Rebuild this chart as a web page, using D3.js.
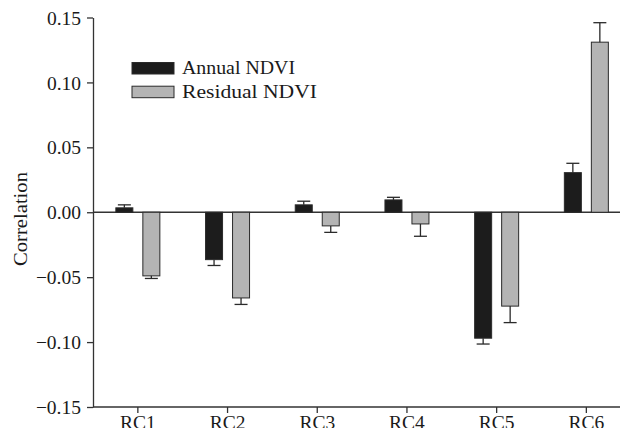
<!DOCTYPE html>
<html lang="en">
<head>
    <meta charset="UTF-8">
    <title>Correlation by region</title>
    <style>
        body { margin: 0; padding: 0; background: #fff; }
        svg { display: block; }
        text { font-family: "Liberation Serif", "DejaVu Serif", serif; fill: #1a1a1a; }
    </style>
</head>
<body>
    <script src="https://d3js.org/d3.v7.min.js"></script>
    <script>
        const categories = ['RC1', 'RC2', 'RC3', 'RC4', 'RC5', 'RC6'];
        const seriesNames = ['Annual NDVI', 'Residual NDVI'];
        const annualValues = [0.0034, -0.0365, 0.0057, 0.0095, -0.097, 0.0305];
        const annualErrors = [0.0023, 0.0045, 0.0028, 0.002, 0.0045, 0.0072];
        const residualValues = [-0.049, -0.066, -0.0105, -0.009, -0.0723, 0.131];
        const residualErrors = [0.002, 0.005, 0.005, 0.0095, 0.0127, 0.015];
        const yTicks = [-0.15, -0.10, -0.05, 0.00, 0.05, 0.10, 0.15];

        const width = 620, height = 428;
        const margin = { left: 93, top: 17.5, bottom: 21 };

        const svg = d3.select('body').append('svg')
            .attr('width', width)
            .attr('height', height);

        const y = d3.scaleLinear()
            .domain([-0.15, 0.15])
            .range([height - margin.bottom, margin.top]);

        const x = d3.scaleBand()
            .domain(categories)
            .range([margin.left, margin.left + 89.7 * 6]);

        const barW = 17, offset = 13.5;
        const fills = ['#1c1c1c', '#b4b4b4'];

        const series = [
            { name: seriesNames[0], values: annualValues, errors: annualErrors, dx: -offset, fill: fills[0], len: 113 },
            { name: seriesNames[1], values: residualValues, errors: residualErrors, dx: offset, fill: fills[1], len: 135 }
        ];

        // zero line
        svg.append('line')
            .attr('x1', margin.left).attr('x2', width)
            .attr('y1', y(0)).attr('y2', y(0))
            .attr('stroke', '#333').attr('stroke-width', 1.3);

        series.forEach(s => {
            const g = svg.append('g');
            categories.forEach((c, i) => {
                const v = s.values[i], e = s.errors[i];
                const cx = x(c) + x.bandwidth() / 2 + s.dx;
                g.append('rect')
                    .attr('x', cx - barW / 2)
                    .attr('y', Math.min(y(v), y(0)))
                    .attr('width', barW)
                    .attr('height', Math.abs(y(v) - y(0)))
                    .attr('fill', s.fill)
                    .attr('stroke', '#2a2a2a')
                    .attr('stroke-width', 1);
                // error bar goes away from zero
                const ev = v >= 0 ? v + e : v - e;
                g.append('line')
                    .attr('x1', cx).attr('x2', cx)
                    .attr('y1', y(v)).attr('y2', y(ev))
                    .attr('stroke', '#2a2a2a').attr('stroke-width', 1.3);
                g.append('line')
                    .attr('x1', cx - 6.5).attr('x2', cx + 6.5)
                    .attr('y1', y(ev)).attr('y2', y(ev))
                    .attr('stroke', '#2a2a2a').attr('stroke-width', 1.3);
            });
        });

        // y axis
        const yAxis = svg.append('g')
            .attr('transform', `translate(${margin.left},0)`)
            .call(d3.axisLeft(y).tickValues(yTicks).tickSize(6).tickSizeOuter(0)
                .tickFormat(d => d3.format('.2f')(d).replace('-', '\u2212')));
        yAxis.selectAll('text')
            .attr('font-size', 19.5)
            .attr('font-family', '"Liberation Serif", serif')
            .attr('x', -12)
            .attr('dy', '0.34em')
            .attr('fill', '#1a1a1a');
        yAxis.selectAll('line, path').attr('stroke', '#333').attr('stroke-width', 1.3);

        // x axis
        const xAxis = svg.append('g')
            .attr('transform', `translate(0,${y(-0.15)})`)
            .call(d3.axisBottom(x).tickSize(6).tickSizeOuter(0));
        xAxis.select('.domain').attr('d', `M${margin.left},0H${width}`);
        xAxis.selectAll('text')
            .attr('font-size', 19.5)
            .attr('font-family', '"Liberation Serif", serif')
            .attr('y', 22)
            .attr('dy', 0)
            .attr('fill', '#1a1a1a');
        xAxis.selectAll('line, path').attr('stroke', '#333').attr('stroke-width', 1.3);

        // y label
        svg.append('text')
            .attr('transform', `translate(27,219) rotate(-90)`)
            .attr('text-anchor', 'middle')
            .attr('font-size', 19.5)
            .attr('textLength', 94)
            .attr('lengthAdjust', 'spacingAndGlyphs')
            .text('Correlation');

        // legend
        const legend = svg.append('g').attr('transform', 'translate(132,62.5)');
        series.forEach((s, i) => {
            const row = legend.append('g').attr('transform', `translate(0,${i * 23.7})`);
            row.append('rect')
                .attr('width', 42).attr('height', 11.5)
                .attr('fill', s.fill)
                .attr('stroke', '#2a2a2a').attr('stroke-width', 1);
            row.append('text')
                .attr('x', 50).attr('y', 11.5)
                .attr('font-size', 19.5)
                .attr('textLength', s.len)
                .attr('lengthAdjust', 'spacingAndGlyphs')
                .text(s.name);
        });
    </script>
</body>
</html>
